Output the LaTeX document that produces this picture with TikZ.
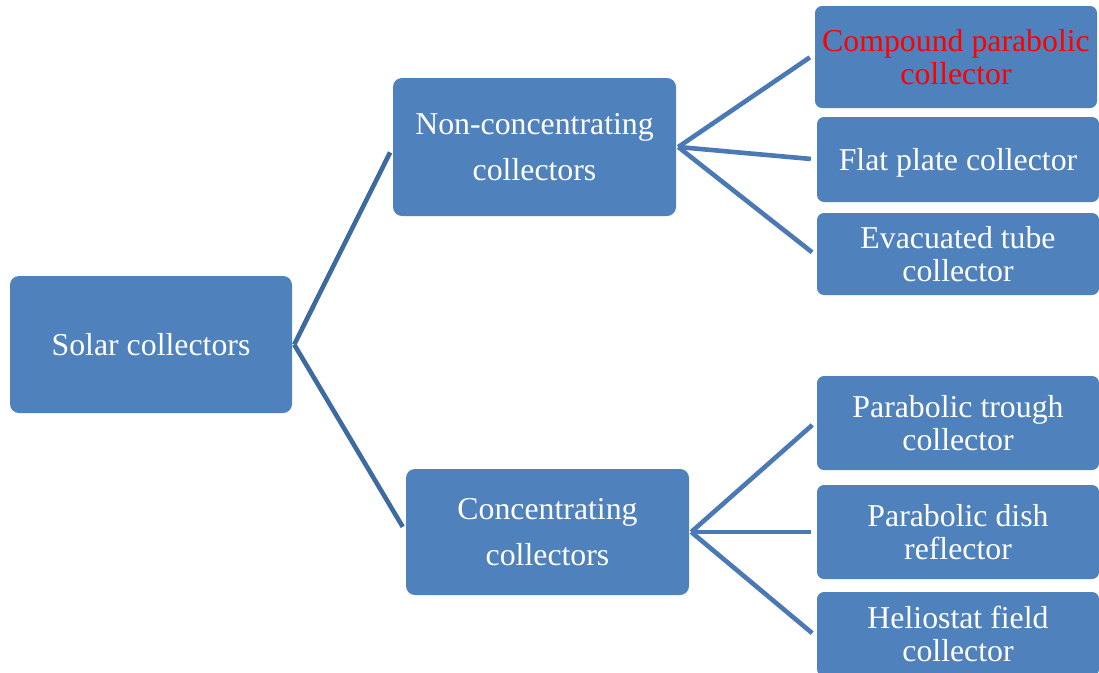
\documentclass[tikz,border=0pt]{standalone}
\usepackage{fontspec}
\setmainfont{Liberation Serif}
\definecolor{boxblue}{HTML}{4F81BD}
\definecolor{linedark}{HTML}{3D6A9F}
\definecolor{linelight}{HTML}{4A79B6}
\tikzset{
  cbox/.style={fill=boxblue, draw=none, rounded corners=9pt, text=white, align=center,
    font=\fontsize{31.8}{33}\selectfont, inner sep=0pt},
  bigbox/.style={cbox, font=\fontsize{31.8}{46}\selectfont},
  conn/.style={line width=4.6pt, shorten >=6pt},
}
\begin{document}
\begin{tikzpicture}[x=1pt,y=-1pt]
\useasboundingbox (0,0) rectangle (1099,672);
\node[cbox, minimum width=282pt, minimum height=137pt] (solar) at (151,344.5) {Solar collectors};
\node[bigbox, minimum width=283pt, minimum height=138pt] (non) at (534.5,147) {Non-concentrating\\collectors};
\node[bigbox, minimum width=283pt, minimum height=126pt] (conc) at (547.5,532) {Concentrating\\collectors};
\node[cbox, rounded corners=7pt, minimum width=282pt, minimum height=102pt, text=red] (cpc) at (956,57) {Compound parabolic\\collector};
\node[cbox, rounded corners=7pt, minimum width=282pt, minimum height=85pt, align=none, text height=28pt, text depth=7pt] (flat) at (958,159.5) {Flat plate collector};
\node[cbox, rounded corners=7pt, minimum width=282pt, minimum height=82pt] (evac) at (958,254) {Evacuated tube\\collector};
\node[cbox, rounded corners=7pt, minimum width=282pt, minimum height=94pt] (trough) at (958,423) {Parabolic trough\\collector};
\node[cbox, rounded corners=7pt, minimum width=282pt, minimum height=94pt] (dish) at (958,532) {Parabolic dish\\reflector};
\node[cbox, rounded corners=7pt, minimum width=282pt, minimum height=84pt] (helio) at (958,634) {Heliostat field\\collector};
\draw[conn, linedark] ([xshift=2pt]solar.east) -- (non.west);
\draw[conn, linedark] ([xshift=2pt]solar.east) -- (conc.west);
\draw[conn, linelight] ([xshift=2pt]non.east) -- ([yshift=3pt]cpc.west);
\draw[conn, linelight] ([xshift=2pt]non.east) -- (flat.west);
\draw[conn, linelight] ([xshift=2pt]non.east) -- ([yshift=-2pt]evac.west);
\draw[conn, linelight] ([xshift=2pt]conc.east) -- ([yshift=2pt]trough.west);
\draw[conn, linelight] ([xshift=2pt]conc.east) -- (dish.west);
\draw[conn, linelight] ([xshift=2pt]conc.east) -- ([yshift=-3pt]helio.west);
\end{tikzpicture}
\end{document}
